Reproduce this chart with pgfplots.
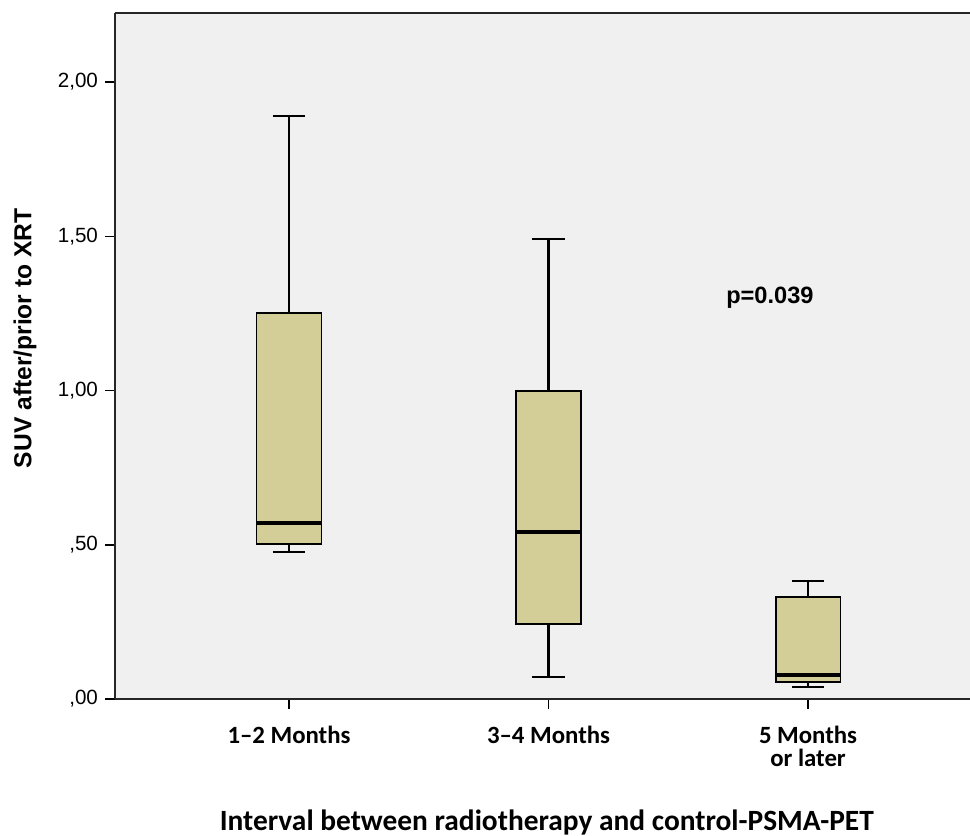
\documentclass[border=0pt]{standalone}
\usepackage{fontspec}
\setmainfont{Liberation Sans}
\newfontfamily\calibri{Carlito}
\usepackage{pgfplots}
\pgfplotsset{compat=1.18}
\usepgfplotslibrary{statistics}

\definecolor{panel}{HTML}{F0F0F0}
\definecolor{boxtan}{HTML}{D3CE98}

\pgfplotsset{
  spssbox/.style={
    draw=black, fill=boxtan, line width=0.9pt,
    boxplot/draw direction=y,
    boxplot/every median/.style={line width=2pt},
    boxplot/every whisker/.style={line width=1.1pt},
  },
}

\begin{document}
\begin{tikzpicture}
\useasboundingbox (-57.5pt,-68.5pt) rectangle (427.5pt,349.5pt);
\begin{axis}[
  at={(0,0)}, anchor=south west,
  width=427.5pt, height=343pt, scale only axis,
  xmin=0.3295, xmax=3.624,
  ymin=0, ymax=2.224,
  axis x line*=bottom, axis y line*=left,
  axis line style={line width=1pt, black!85},
  axis background/.style={fill=panel},
  tick pos=left,
  tick align=outside,
  major tick length=5pt,
  tick style={black, line width=0.75pt},
  xtick={1,2,3},
  xticklabels={1–2 Months, 3–4 Months, {5 Months\\or later}},
  xticklabel style={font=\calibri\bfseries\fontsize{12.4}{11.5}\selectfont,
    align=center, yshift=-5pt},
  ytick={0,0.5,1,1.5,2},
  yticklabels={{,00},{,50},{1,00},{1,50},{2,00}},
  yticklabel style={font=\fontsize{10.3}{11}\selectfont},
  xlabel={Interval between radiotherapy and control-PSMA-PET},
  xlabel style={font=\calibri\bfseries\fontsize{14.7}{15}\selectfont,
    at={(axis description cs:0.505,0)}, yshift=-61.5pt, anchor=center},
  ylabel={SUV after/prior to XRT},
  ylabel style={font=\bfseries\fontsize{12.3}{13}\selectfont,
    at={(axis description cs:-0.1053,0.526)}, anchor=center},
]
% 1-2 months
\addplot[spssbox, boxplot prepared={draw position=1,
  lower whisker=0.476, lower quartile=0.502, median=0.571,
  upper quartile=1.251, upper whisker=1.890,
  box extend=0.25, whisker extend=0.125}] coordinates {};
% 3-4 months
\addplot[spssbox, boxplot prepared={draw position=2,
  lower whisker=0.071, lower quartile=0.243, median=0.541,
  upper quartile=0.998, upper whisker=1.491,
  box extend=0.25, whisker extend=0.125}] coordinates {};
% 5 months or later
\addplot[spssbox, boxplot prepared={draw position=3,
  lower whisker=0.039, lower quartile=0.055, median=0.078,
  upper quartile=0.331, upper whisker=0.382,
  box extend=0.25, whisker extend=0.125}] coordinates {};

\draw[line width=1pt, black!85] (rel axis cs:0,1) -- (rel axis cs:1,1);
\node[font=\bfseries\fontsize{11.8}{12}\selectfont] at (axis cs:2.853,1.30) {p=0.039};
\end{axis}
\end{tikzpicture}
\end{document}
